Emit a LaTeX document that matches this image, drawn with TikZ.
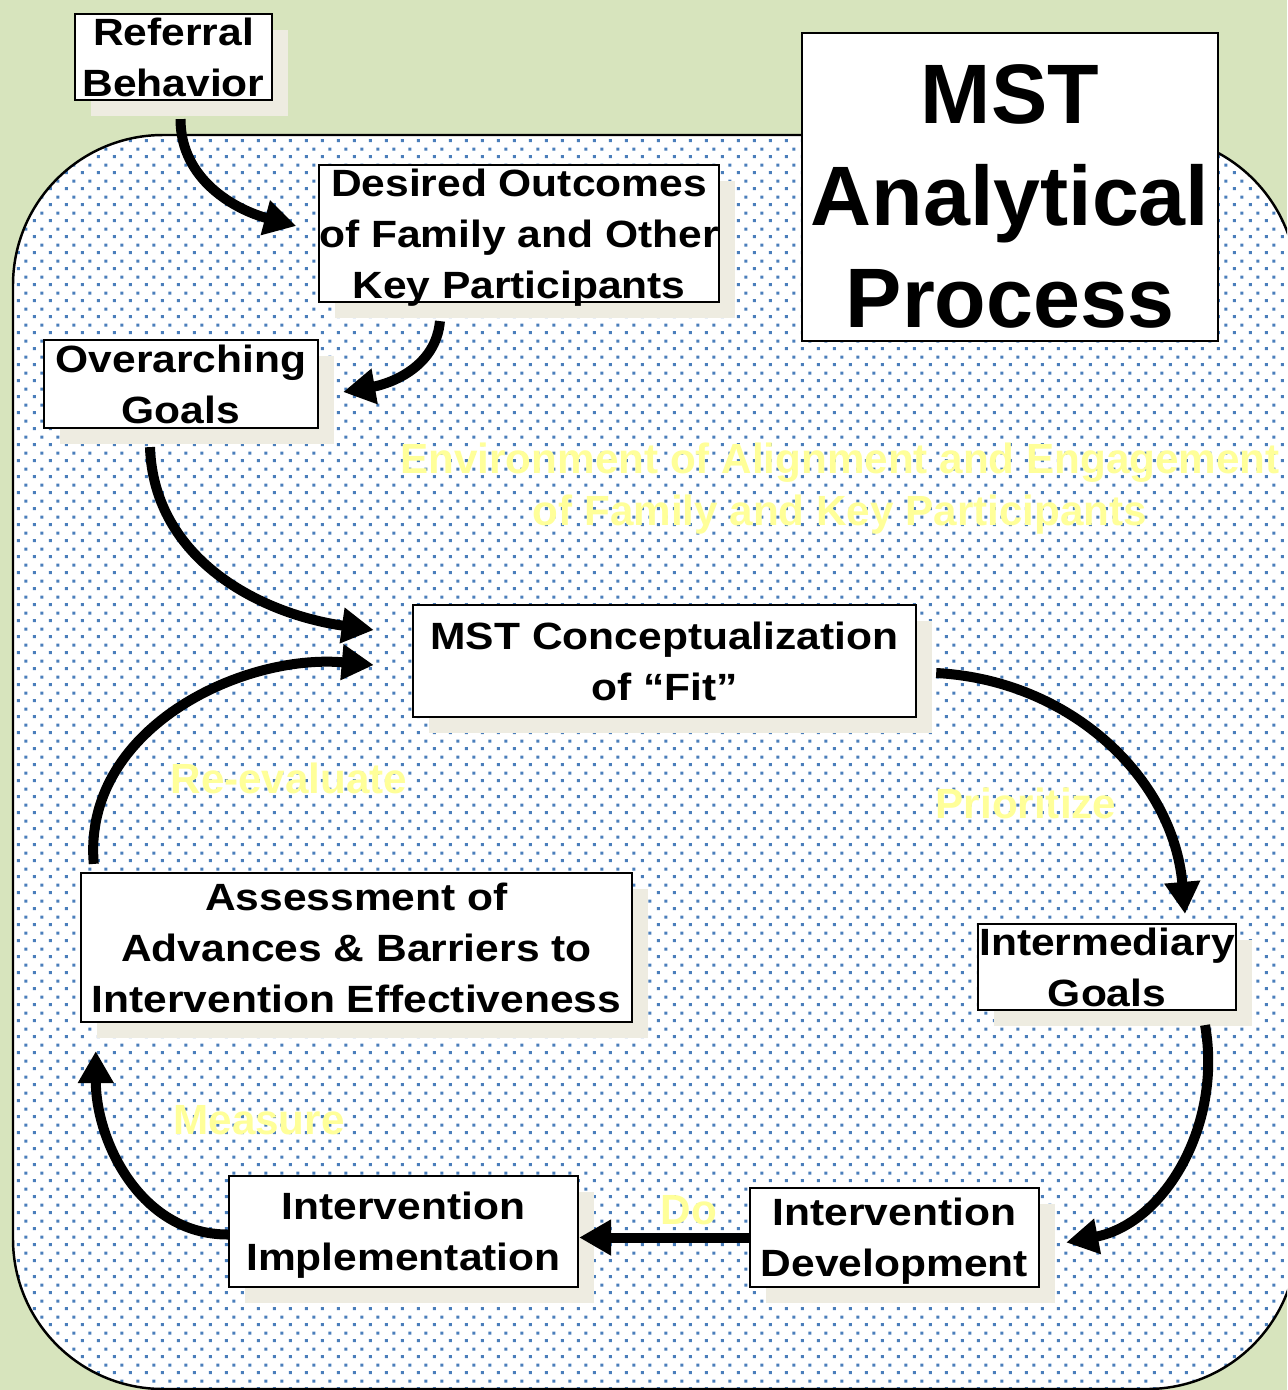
\documentclass[tikz,border=0pt]{standalone}
\usepackage{fontspec}
\setmainfont{Liberation Sans}
\newfontfamily\boxfont{Liberation Sans}[FakeStretch=1.12]
\usepackage{xcolor}
\usepackage{tikz}
\usetikzlibrary{
    shapes,
    positioning,
    shadows,
    calc,
    arrows.meta,
    patterns.meta
}
\definecolor{slidegreen}{HTML}{D7E4BD}
\definecolor{dotblue}{HTML}{4A7EBB}
\definecolor{shadowbeige}{HTML}{EEECE1}
\definecolor{hintyellow}{HTML}{FFFF99}

% staggered dot fill of the working area
\tikzdeclarepattern{
  name=bluedots,
  type=colored,
  bottom left={(0cm,0cm)},
  top right={(0.16cm,0.16cm)},
  tile size={(0.16cm,0.16cm)},
  code={
    \fill[dotblue] (0.01cm,0.01cm) rectangle (0.041cm,0.041cm);
    \fill[dotblue] (0.09cm,0.09cm) rectangle (0.121cm,0.121cm);
  }
}

\tikzset{
  box/.style = {
      draw,
      line width=0.6pt,
      fill=white,
      inner sep=0pt,
      text depth=0pt,
      align=center,
      font=\boxfont\bfseries\fontsize{10.8}{14.5}\selectfont,
      drop shadow={shadow xshift=0.16cm, shadow yshift=-0.16cm,
                   fill=shadowbeige, opacity=1}
  },
  titlebox/.style = {
      draw,
      line width=0.6pt,
      fill=white,
      inner sep=0pt,
      align=center,
      font=\bfseries\fontsize{24}{29}\selectfont
  },
  hint/.style = {
      inner sep=0pt,
      align=center,
      text=hintyellow,
      font=\bfseries\fontsize{12}{14.8}\selectfont
  },
  flow/.style = {
      line width=0.1cm,
      -{Triangle[length=0.32cm, width=0.34cm]}
  }
}

\begin{document}
\begin{tikzpicture}[x=0.01cm, y=0.01cm]
        \useasboundingbox (0,0) rectangle (1287,-1390);
        \clip (0,0) rectangle (1287,-1390);
        % Background
        \fill[slidegreen] (0,0) rectangle (1287,-1390);
        \draw[preaction={fill=white}, pattern=bluedots, line width=0.7pt,
              rounded corners=1.5cm] (13,-135) rectangle (1297,-1389);
        % Labels
        \node[hint] (env) at (840,-489)
            {Environment of Alignment and Engagement\\of Family and Key Participants};
        \node[hint] (reeval) at (289,-778) {Re-evaluate};
        \node[hint] (prior) at (1026,-803) {Prioritize};
        \node[hint] (measure) at (259,-1120) {Measure};
        \node[hint] (do) at (689,-1210) {Do};
        % Nodes
        \node[titlebox, minimum width=4.16cm, minimum height=3.08cm] (title)
            at (1010,-187) {\rule{0pt}{0.77cm}MST\\Analytical\\Process};
        \node[box, minimum width=1.97cm, minimum height=0.86cm] (ref)
            at (173.5,-57) {Referral\\Behavior};
        \node[box, minimum width=3.98cm, minimum height=1.37cm] (des)
            at (519,-233.5) {Desired Outcomes\\of Family and Other\\Key Participants};
        \node[box, minimum width=2.74cm, minimum height=0.88cm] (over)
            at (181,-384) {Overarching\\Goals};
        \node[box, minimum width=5.03cm, minimum height=1.12cm] (fit)
            at (664.5,-661) {MST Conceptualization\\of “Fit”};
        \node[box, minimum width=2.58cm, minimum height=0.86cm] (inter)
            at (1107,-967) {Intermediary\\Goals};
        \node[box, minimum width=5.51cm, minimum height=1.49cm] (assess)
            at (356.5,-947.5) {Assessment of\\Advances \& Barriers to\\Intervention Effectiveness};
        \node[box, minimum width=2.89cm, minimum height=0.99cm] (dev)
            at (894.5,-1237.5) {Intervention\\Development};
        \node[box, minimum width=3.49cm, minimum height=1.11cm] (impl)
            at (403.5,-1231.5) {Intervention\\Implementation};
        % Edges
        \draw[flow] ([xshift=0.07cm, yshift=-0.18cm]ref.south)
            to[out=-90, in=165] ([xshift=-0.22cm, yshift=0.075cm]des.west);
        \draw[flow] ([xshift=-0.79cm, yshift=-0.18cm]des.south)
            to[out=-95, in=10] ([xshift=0.24cm, yshift=-0.08cm]over.east);
        \draw[flow] ([xshift=-0.31cm, yshift=-0.18cm]over.south)
            to[out=-88, in=172] ([xshift=-0.38cm, yshift=0.31cm]fit.west);
        \draw[flow] ([xshift=0.14cm, yshift=0.08cm]assess.north west)
            to[out=95, in=175] ([xshift=-0.38cm, yshift=-0.04cm]fit.west);
        \draw[flow] ([xshift=0.19cm, yshift=-0.12cm]fit.east)
            to[out=-3, in=95] ([xshift=0.78cm, yshift=0.09cm]inter.north);
        \draw[flow] ([xshift=0.98cm, yshift=-0.14cm]inter.south)
            to[out=-80, in=11] ([xshift=0.26cm, yshift=-0.05cm]dev.east);
        \draw[flow] (dev.west) -- (impl.east |- dev.west);
        \draw[flow] ([yshift=-0.03cm]impl.west)
            to[out=180, in=-90] ([xshift=0.16cm, yshift=-0.28cm]assess.south west);
    \end{tikzpicture}
\end{document}
